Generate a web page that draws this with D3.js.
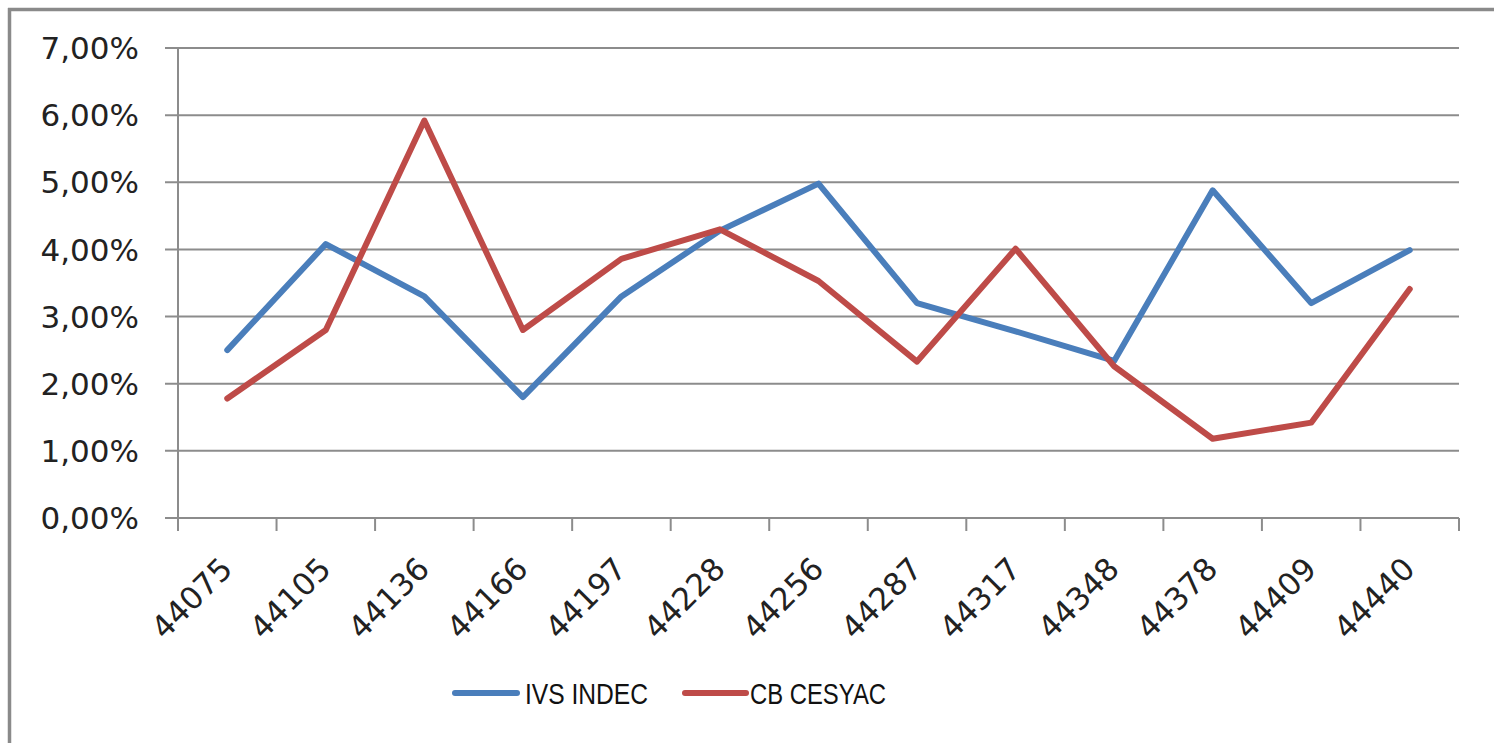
<!DOCTYPE html>
<html>
<head>
<meta charset="utf-8">
<script src="https://cdn.jsdelivr.net/npm/d3@7/dist/d3.min.js"></script>
<style>
  html, body { margin: 0; padding: 0; background: #fff; }
  svg { display: block; }
</style>
</head>
<body>
<svg id="chart" width="1494" height="743"></svg>
<script>
const categories = ["44075","44105","44136","44166","44197","44228","44256","44287","44317","44348","44378","44409","44440"];
const ivsIndec  = [2.50, 4.08, 3.30, 1.80, 3.30, 4.28, 4.98, 3.20, 2.78, 2.34, 4.88, 3.20, 3.99];
const cbCesyac  = [1.78, 2.80, 5.92, 2.80, 3.86, 4.30, 3.53, 2.33, 4.01, 2.26, 1.18, 1.42, 3.41];
const yTicks = [0, 1, 2, 3, 4, 5, 6, 7];
const seriesNames = ["IVS INDEC", "CB CESYAC"];
const seriesColors = ["#4a7ebb", "#be4b48"];

const svg = d3.select("#chart");

// frame (left and top visible edges)
svg.append("line").attr("x1", 9.5).attr("x2", 9.5).attr("y1", 8).attr("y2", 743)
  .attr("stroke", "#8a8a8a").attr("stroke-width", 3.5);
svg.append("line").attr("x1", 8).attr("x2", 1494).attr("y1", 9.5).attr("y2", 9.5)
  .attr("stroke", "#8a8a8a").attr("stroke-width", 3.5);

const plotLeft = 178, plotRight = 1459, plotTop = 48, plotBottom = 518;

const x = d3.scaleBand().domain(categories).range([plotLeft, plotRight]).padding(0);
const y = d3.scaleLinear().domain([0, 7]).range([plotBottom, plotTop]);
const gridColor = "#8c8c8c";

// gridlines
svg.append("g").selectAll("line").data(yTicks).join("line")
  .attr("x1", plotLeft - 13).attr("x2", plotRight)
  .attr("y1", d => y(d)).attr("y2", d => y(d))
  .attr("stroke", gridColor).attr("stroke-width", 2);

// y axis line
svg.append("line").attr("x1", plotLeft).attr("x2", plotLeft).attr("y1", plotTop).attr("y2", plotBottom)
  .attr("stroke", gridColor).attr("stroke-width", 2);

// x ticks at band boundaries
const boundaries = categories.map(c => x(c)).concat([x(categories[categories.length - 1]) + x.bandwidth()]);
svg.append("g").selectAll("line").data(boundaries).join("line")
  .attr("x1", d => d).attr("x2", d => d).attr("y1", plotBottom).attr("y2", plotBottom + 13)
  .attr("stroke", gridColor).attr("stroke-width", 2);

// y labels
const fmt = d => d.toFixed(2).replace(".", ",") + "%";
svg.append("g").selectAll("text").data(yTicks).join("text")
  .attr("x", 139).attr("y", d => y(d)).attr("dy", "0.36em")
  .attr("text-anchor", "end")
  .attr("font-family", "DejaVu Sans, Verdana, sans-serif")
  .attr("font-size", 31).attr("fill", "#222")
  .text(fmt);

// x labels
svg.append("g").selectAll("text").data(categories).join("text")
  .attr("transform", d => `translate(${x(d) + x.bandwidth() / 2 - 1},563) rotate(-45)`)
  .attr("dy", "0.36em")
  .attr("text-anchor", "end")
  .attr("font-family", "DejaVu Sans, Verdana, sans-serif")
  .attr("font-size", 31).attr("fill", "#222")
  .text(d => d);

// lines
const line = d3.line()
  .x((d, i) => x(categories[i]) + x.bandwidth() / 2)
  .y(d => y(d));
[ivsIndec, cbCesyac].forEach((s, k) => {
  svg.append("path").datum(s)
    .attr("d", line)
    .attr("fill", "none")
    .attr("stroke", seriesColors[k])
    .attr("stroke-width", 6)
    .attr("stroke-linejoin", "round")
    .attr("stroke-linecap", "round");
});

// legend
const legendItems = [
  { name: seriesNames[0], color: seriesColors[0], x1: 455, x2: 517, tx: 525, w: 123 },
  { name: seriesNames[1], color: seriesColors[1], x1: 685, x2: 746, tx: 750, w: 136 }
];
const lg = svg.append("g");
legendItems.forEach(it => {
  lg.append("line").attr("x1", it.x1).attr("x2", it.x2).attr("y1", 693).attr("y2", 693)
    .attr("stroke", it.color).attr("stroke-width", 6).attr("stroke-linecap", "round");
  lg.append("text").attr("x", it.tx).attr("y", 693).attr("dy", "0.36em")
    .attr("font-family", "Liberation Sans Narrow, Arial Narrow, Liberation Sans, sans-serif")
    .attr("font-size", 30).attr("fill", "#111")
    .attr("textLength", it.w).attr("lengthAdjust", "spacingAndGlyphs")
    .text(it.name);
});
</script>
</body>
</html>
